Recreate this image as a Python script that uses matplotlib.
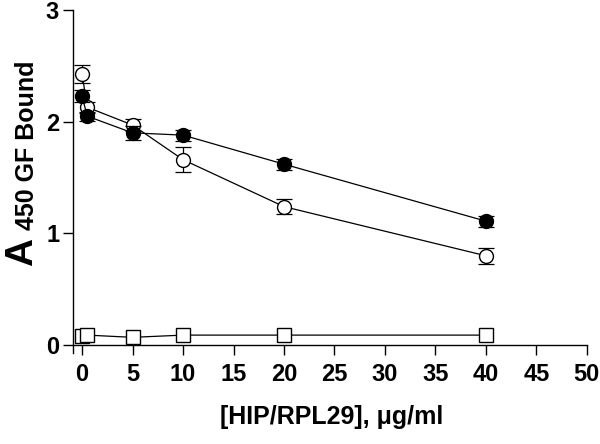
import matplotlib
matplotlib.use("Agg")
import matplotlib.pyplot as plt

x = [0, 0.5, 5, 10, 20, 40]
filled_y = [2.23, 2.05, 1.90, 1.88, 1.62, 1.11]
filled_err = [0.05, 0.04, 0.06, 0.05, 0.05, 0.05]
open_y = [2.43, 2.13, 1.97, 1.66, 1.24, 0.80]
open_err = [0.08, 0.05, 0.05, 0.11, 0.07, 0.07]
square_y = [0.08, 0.09, 0.07, 0.09, 0.09, 0.09]

xticks = [0, 5, 10, 15, 20, 25, 30, 35, 40, 45, 50]
yticks = [0, 1, 2, 3]

plt.rcParams['font.family'] = ['Liberation Sans', 'DejaVu Sans']
plt.rcParams['font.weight'] = 'bold'

fig = plt.figure(figsize=(6.0, 4.44), dpi=100)
ax = fig.add_axes([0.1217, 0.205, 0.8563, 0.7725])

ax.errorbar(x, open_y, yerr=open_err, fmt='o', ls='-', color='black', lw=0.9,
            mfc='white', mec='black', ms=10, capsize=6, elinewidth=0.9, capthick=0.9, zorder=3)
ax.errorbar(x, filled_y, yerr=filled_err, fmt='o', ls='-', color='black', lw=0.9,
            mfc='black', mec='black', ms=10, capsize=6, elinewidth=0.9, capthick=0.9, zorder=4)
ax.plot(x, square_y, marker='s', ls='-', color='black', lw=0.9,
        mfc='white', mec='black', ms=10, zorder=3, clip_on=False)

ax.set_xlim(-0.9, 50)
ax.set_ylim(-0.07, 3)
ax.spines['top'].set_visible(False)
ax.spines['right'].set_visible(False)
ax.spines['bottom'].set_position(('data', 0))
for s in ('left', 'bottom'):
    ax.spines[s].set_linewidth(1.0)
ax.set_xticks(xticks)
ax.set_yticks(yticks)
ax.tick_params(axis='both', direction='out', length=7, width=1.0, labelsize=17)
ax.tick_params(axis='x', pad=6)
ax.tick_params(axis='y', pad=3)
for lab in ax.get_xticklabels() + ax.get_yticklabels():
    lab.set_fontweight('bold')

fig.text(0.5525, 0.06, '[HIP/RPL29], μg/ml', ha='center', va='center',
         fontsize=18, fontweight='bold')
fig.text(0.036, 0.432, 'A', rotation=90, ha='center', va='center',
         fontsize=28, fontweight='bold')
fig.text(0.045, 0.673, '450 GF Bound', rotation=90, ha='center', va='center',
         fontsize=18, fontweight='bold')

fig.savefig('out.png', dpi=100)
